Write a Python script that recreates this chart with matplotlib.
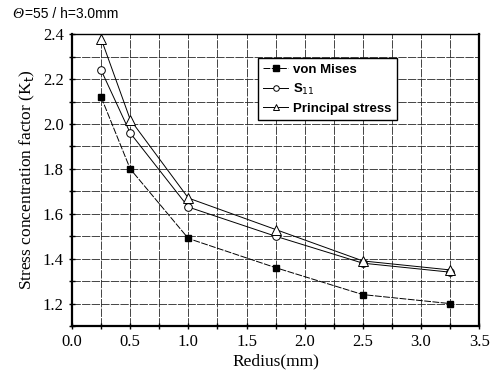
import matplotlib.pyplot as plt
from matplotlib.ticker import MultipleLocator

radius = [0.25, 0.5, 1.0, 1.75, 2.5, 3.25]
von_mises = [2.12, 1.80, 1.49, 1.36, 1.24, 1.20]
s11 = [2.24, 1.96, 1.63, 1.50, 1.38, 1.34]
principal = [2.38, 2.02, 1.67, 1.53, 1.39, 1.35]

serif = 'Liberation Serif'
sans = 'Liberation Sans'

fig = plt.figure(figsize=(4.9, 3.8), dpi=100)
ax = fig.add_axes([0.147, 0.142, 0.831, 0.768])

ax.plot(radius, von_mises, color='black', lw=0.7, ls=(0, (7, 1.5)),
        marker='s', ms=5, mfc='black', mec='black', label='von Mises')
ax.plot(radius, s11, color='black', lw=0.7,
        marker='o', ms=5.5, mfc='white', mec='black', mew=0.7, label='S$_{11}$')
ax.plot(radius, principal, color='black', lw=0.7,
        marker='^', ms=6.5, mfc='white', mec='black', mew=0.7, label='Principal stress')

ax.set_xlim(0.0, 3.5)
ax.set_ylim(1.1, 2.4)
ax.xaxis.set_major_locator(MultipleLocator(0.5))
ax.xaxis.set_minor_locator(MultipleLocator(0.25))
ax.yaxis.set_major_locator(MultipleLocator(0.2))
ax.yaxis.set_minor_locator(MultipleLocator(0.1))
ax.grid(True, which='both', color='0.15', lw=0.6, ls=(0, (10, 1.5)))
ax.set_axisbelow(True)

ax.tick_params(which='both', direction='inout', length=5, width=1.0,
               labelsize=12)
for lab in ax.get_xticklabels() + ax.get_yticklabels():
    lab.set_family(serif)
ax.xaxis.set_major_formatter(plt.FuncFormatter(lambda v, p: f'{v:.1f}'))
ax.yaxis.set_major_formatter(plt.FuncFormatter(lambda v, p: f'{v:.1f}'))

for side in ['left', 'bottom', 'right']:
    ax.spines[side].set_linewidth(1.6)
ax.spines['top'].set_linewidth(1.0)

ax.set_xlabel('Redius(mm)', family=serif, fontsize=12.5, labelpad=2)
ax.set_ylabel('Stress concentration factor (K$_\\mathrm{t}$)', family=serif,
              fontsize=12.5, labelpad=4)

fig.text(0.025, 0.962, '\u0398', family=serif, style='italic',
         fontsize=11, va='center', ha='left')
fig.text(0.05, 0.962, '=55 / h=3.0mm', family=sans,
         fontsize=10, va='center', ha='left')

leg = ax.legend(loc='upper left', bbox_to_anchor=(0.44, 0.94),
                fancybox=False, shadow=False, framealpha=1,
                edgecolor='black', handlelength=1.9, handletextpad=0.4,
                borderpad=0.4, labelspacing=0.45,
                prop={'family': sans, 'weight': 'bold', 'size': 9.5})
leg.get_frame().set_linewidth(1.0)
for h in leg.legend_handles:
    h.set_markersize(4)

fig.savefig('out.png', dpi=100)
